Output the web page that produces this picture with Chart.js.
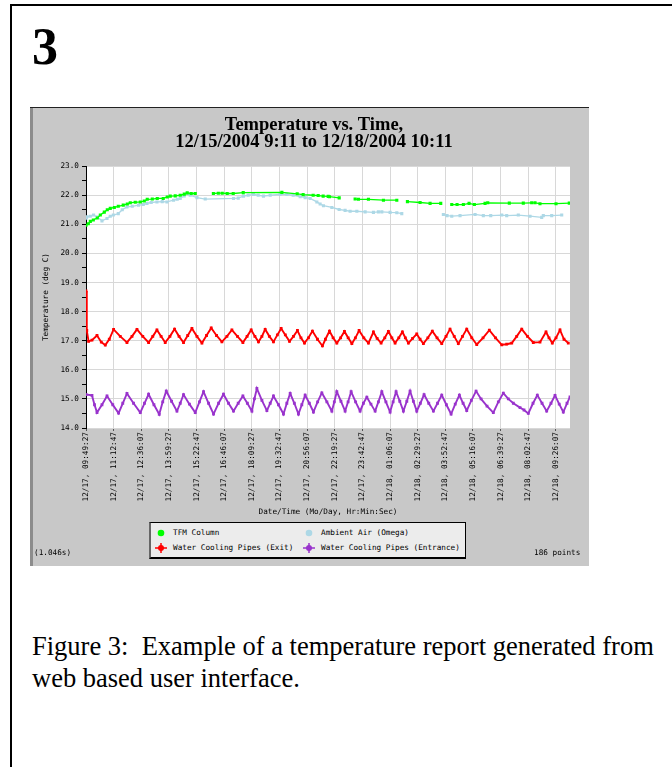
<!DOCTYPE html>
<html><head><meta charset="utf-8">
<script src="https://cdn.jsdelivr.net/npm/chart.js@4.4.1/dist/chart.umd.min.js"></script>
<style>
html,body{margin:0;padding:0;background:#fff;width:672px;height:767px;overflow:hidden;position:relative;}
#frame{position:absolute;left:10px;top:4px;width:700px;height:800px;border-top:2px solid #000;border-left:2px solid #000;}
#num{position:absolute;left:32px;top:21px;font:bold 52px/1 "Liberation Serif",serif;color:#000;}
#panel{position:absolute;left:30px;top:107px;width:559px;height:459px;background:#c8c8c8;}
#panel canvas{position:absolute;left:0;top:0;}
#lbar{position:absolute;left:30px;top:107px;width:3px;height:459px;background:#8c8c8c;}
#tline{position:absolute;left:30px;top:107px;width:559px;height:1px;background:#222;}
#legend{position:absolute;left:149px;top:522px;width:314px;height:34px;background:#ececec;border:1px solid #000;border-left:2px solid #666;border-bottom:2px solid #000;}
.li{position:absolute;height:12px;font:7.7px/12px "DejaVu Sans Mono",monospace;color:#000;white-space:pre;}
.li svg{position:absolute;top:0;}
.li span{position:absolute;top:0;}
.small{position:absolute;font:7.7px/10px "DejaVu Sans Mono",monospace;color:#000;white-space:pre;}
#caption{position:absolute;left:32px;top:630px;width:640px;font:26.5px/32px "Liberation Serif",serif;color:#000;white-space:pre;}
</style></head>
<body>
<div id="frame"></div>
<div id="num">3</div>
<div id="panel"><canvas id="c" width="559" height="459"></canvas></div>
<div id="lbar"></div>
<div id="tline"></div>
<div id="legend"></div>
<div class="small" style="left:34px;top:548px;">(1.046s)</div>
<div class="small" style="left:534px;top:548px;">186 points</div>
<div id="caption">Figure 3:  Example of a temperature report generated from
web based user interface.</div>
<script>
// ---- data (x = seconds after 12/17 09:49:27) ----
const chartTitle = ['Temperature vs. Time,', '12/15/2004 9:11 to 12/18/2004 10:11'];
const seriesNames = ['TFM Column', 'Ambient Air (Omega)', 'Water Cooling Pipes (Exit)', 'Water Cooling Pipes (Entrance)'];
const tickLabels = ['12/17, 09:49:27','12/17, 11:12:47','12/17, 12:36:07','12/17, 13:59:27','12/17, 15:22:47','12/17, 16:46:07',
  '12/17, 18:09:27','12/17, 19:32:47','12/17, 20:56:07','12/17, 22:19:27','12/17, 23:42:47','12/18, 01:06:07',
  '12/18, 02:29:27','12/18, 03:52:47','12/18, 05:16:07','12/18, 06:39:27','12/18, 08:02:47','12/18, 09:26:07'];
const tickStep = 5000;
const xMax = 87550;
const yTickValues = [14,14.5,15,15.5,16,16.5,17,17.5,18,18.5,19,19.5,20,20.5,21,21.5,22,22.5,23];

const tfmColumn = [[0,20.97],[420,21.02],[780,21.10],[1320,21.15],[2040,21.22],[2590,21.32],[3310,21.42],[3850,21.50],[4390,21.55],[5120,21.58],
  [5840,21.62],[6740,21.66],[7470,21.70],[8010,21.74],[8910,21.76],[9820,21.77],[10540,21.80],[11080,21.86],[11990,21.87],[12890,21.89],
  [13970,21.89],[14700,21.94],[15240,21.97],[16140,21.98],[17050,22.00],[17770,22.04],[18310,22.08],[19030,22.06],[19760,22.06],[21400,null],
  [23040,22.06],[23940,22.07],[24640,22.07],[25540,22.06],[26630,22.06],[28440,22.09],[35430,22.10],[38200,22.05],[39280,22.02],[41090,22.00],
  [42000,21.99],[42900,21.97],[43810,21.96],[44040,21.95],[45800,21.91],[47200,null],[48680,21.87],[49280,21.86],[51090,21.86],[53800,21.83],
  [56220,21.83],[57200,null],[58140,21.78],[60430,21.75],[62240,21.72],[64170,21.72],[65200,null],[66160,21.68],[67120,21.68],[68260,21.68],
  [69290,21.72],[70250,21.68],[72180,21.72],[72670,21.74],[76570,21.73],[79100,21.73],[80620,21.74],[81220,21.74],[82120,21.71],[85020,21.71],
  [87420,21.73]];

const ambientAir = [[0,21.21],[180,21.26],[780,21.28],[1370,21.32],[2040,21.25],[2890,21.12],[3800,21.20],[4390,21.28],[4940,21.32],[5840,21.37],
  [6560,21.50],[7410,21.60],[8370,21.62],[9510,21.66],[10360,21.68],[11030,21.72],[11800,21.75],[12830,21.77],[13790,21.78],[14640,21.77],
  [15840,21.83],[16500,21.86],[17050,21.89],[17770,21.98],[18260,22.06],[18850,22.00],[20070,21.92],[21570,21.87],[26680,21.89],[27530,21.90],
  [28490,21.97],[29340,22.00],[30300,22.03],[31150,22.00],[32100,21.97],[33320,22.00],[35120,22.03],[36330,22.03],[37470,22.00],[38740,21.95],
  [39640,21.92],[40540,21.89],[41760,21.77],[42350,21.70],[42950,21.64],[44470,21.58],[45790,21.51],[46870,21.48],[47780,21.45],[48990,21.45],
  [50490,21.43],[51990,21.41],[52890,21.43],[53510,21.43],[55010,21.41],[56220,21.40],[57120,21.37],[61000,null],[64640,21.34],[65310,21.30],
  [66160,21.28],[67660,21.30],[70380,21.34],[71870,21.30],[73210,21.30],[75200,21.32],[76100,21.30],[78200,21.32],[80320,21.28],[82430,21.24],
  [82720,21.30],[84240,21.30],[86050,21.32]];

const exitPipes = [[0,18.71],[140,17.35],[470,16.98],[1080,17.02],[1990,17.18],[2770,16.95],[3490,16.85],[4210,17.05],[4990,17.39],[6200,17.15],
  [7410,16.94],[8320,17.15],[9220,17.39],[10270,17.15],[11320,16.94],[12080,17.15],[12830,17.37],[13580,17.15],[14330,16.94],[15180,17.15],
  [16020,17.40],[16830,17.15],[17640,16.94],[18400,17.18],[19160,17.42],[20070,17.15],[20970,16.92],[21800,17.18],[22650,17.44],[23610,17.18],
  [24580,16.96],[25490,17.15],[26390,17.37],[27390,17.15],[28380,16.94],[29140,17.15],[29880,17.37],[30550,17.15],[31200,16.96],[31820,17.15],
  [32410,17.39],[33170,17.15],[33910,16.96],[34620,17.20],[35300,17.42],[36060,17.20],[36810,16.98],[37530,17.15],[38250,17.35],[38880,17.10],
  [39520,16.92],[40240,17.10],[40960,17.33],[41870,17.05],[42770,16.82],[43310,17.05],[44040,17.33],[44700,17.10],[45370,16.92],[46060,17.10],
  [46750,17.32],[47420,17.10],[48090,16.90],[48730,17.10],[49400,17.35],[50250,17.10],[51090,16.92],[51990,17.30],[52660,17.08],[53380,16.92],
  [54050,17.10],[54700,17.32],[55320,17.10],[55910,16.92],[56580,17.10],[57230,17.30],[57770,17.10],[58320,16.92],[59080,17.08],[59830,17.23],
  [60430,17.05],[61030,16.90],[61840,17.10],[62650,17.33],[63500,17.10],[64350,16.90],[65130,17.15],[65850,17.40],[66610,17.15],[67350,16.90],
  [68110,17.15],[68870,17.40],[69780,17.10],[70680,16.87],[71820,17.10],[72960,17.36],[74080,17.10],[75200,16.86],[76100,16.88],[77010,16.92],
  [77910,17.15],[78820,17.40],[79860,17.15],[80910,16.94],[82120,16.95],[83210,17.30],[83750,17.10],[84350,16.92],[85020,17.10],[85740,17.37],
  [86460,17.05],[87240,16.92]];

const entrancePipes = [[0,15.15],[1080,15.12],[1540,14.80],[1990,14.53],[2890,14.80],[3800,15.10],[4840,14.80],[5890,14.51],[6650,14.85],[7410,15.19],
  [8600,14.85],[9820,14.53],[10580,14.85],[11320,15.16],[12290,14.80],[13250,14.47],[13880,14.90],[14520,15.27],[15480,14.92],[16450,14.58],
  [17050,14.85],[17640,15.15],[18710,14.82],[19760,14.53],[20520,14.90],[21260,15.25],[22170,14.85],[23070,14.48],[23980,14.85],[24870,15.16],
  [25780,14.85],[26680,14.58],[27530,14.85],[28380,15.10],[29190,14.85],[30010,14.58],[30460,15.00],[30910,15.36],[31820,14.95],[32720,14.60],
  [33320,14.85],[33910,15.10],[34820,14.80],[35720,14.48],[36330,14.85],[36930,15.19],[37690,14.85],[38430,14.48],[39040,14.80],[39640,15.13],
  [40400,14.85],[41140,14.55],[41900,14.90],[42660,15.21],[43570,14.90],[44470,14.58],[44920,14.90],[45370,15.25],[46110,14.92],[46870,14.58],
  [47410,14.90],[47960,15.25],[48770,14.90],[49580,14.58],[50180,14.85],[50800,15.06],[51540,14.82],[52300,14.58],[52890,14.90],[53510,15.25],
  [54250,14.90],[55010,14.55],[55550,14.90],[56090,15.25],[56760,14.92],[57410,14.58],[58030,14.92],[58620,15.27],[59220,14.92],[59830,14.58],
  [60480,14.85],[61150,15.15],[62000,14.85],[62840,14.58],[63590,14.85],[64350,15.13],[65190,14.80],[66040,14.48],[66790,14.82],[67540,15.13],
  [68210,14.85],[68870,14.60],[69710,14.95],[70560,15.27],[71460,15.00],[72540,14.75],[73680,14.53],[74590,14.90],[75490,15.20],[76390,15.00],
  [77300,14.85],[78510,14.70],[79230,14.62],[80010,14.50],[80860,14.85],[81640,15.13],[82490,14.85],[83330,14.58],[84110,14.85],[84840,15.12],
  [85600,14.82],[86340,14.55],[87010,14.85],[87550,15.07]];

const seriesColors = ['#00ff00', '#add8e6', '#ff0000', '#9933cc'];
const seriesData = [tfmColumn, ambientAir, exitPipes, entrancePipes];

// ---- legend (HTML text) ----
const legendPos = [[0,0],[148,0],[0,15],[148,15]];
const legendEl = document.getElementById('legend');
seriesNames.forEach((name, i) => {
  const d = document.createElement('div');
  d.className = 'li';
  d.style.left = (3 + legendPos[i][0]) + 'px';
  d.style.top = (4 + legendPos[i][1]) + 'px';
  const c = seriesColors[i];
  const mk = i < 2
    ? `<svg width="14" height="12" style="left:0"><circle cx="7" cy="6" r="3.3" fill="${c}"/></svg>`
    : `<svg width="14" height="12" style="left:0"><line x1="1" y1="6" x2="13" y2="6" stroke="${c}" stroke-width="1.5"/><line x1="7" y1="1" x2="7" y2="11" stroke="${c}" stroke-width="1.5"/><circle cx="7" cy="6" r="3" fill="${c}"/></svg>`;
  d.innerHTML = mk + `<span style="left:19px">${name}</span>`;
  legendEl.appendChild(d);
});

// ---- chart ----
Chart.defaults.font.family = '"DejaVu Sans Mono", monospace';
Chart.defaults.color = '#000';
const plotBg = { id: 'plotBg', beforeDraw(c) { const {ctx, chartArea: a} = c; ctx.save(); ctx.fillStyle = '#fff'; ctx.fillRect(a.left, a.top, a.right - a.left, a.bottom - a.top); ctx.restore(); } };

new Chart(document.getElementById('c'), {
  type: 'line',
  data: {
    datasets: seriesData.map((s, i) => ({
      label: seriesNames[i],
      data: s.map(p => ({x: p[0], y: p[1]})),
      borderColor: seriesColors[i],
      backgroundColor: seriesColors[i],
      borderWidth: i < 2 ? 1.3 : 1.9,
      pointStyle: 'rect',
      pointRadius: i < 2 ? 2.2 : 2,
      pointBorderWidth: 0,
      tension: 0,
      spanGaps: false
    }))
  },
  options: {
    responsive: false,
    animation: false,
    layout: { padding: { left: 9, right: 0, top: 0, bottom: 41 } },
    plugins: {
      legend: { display: false },
      tooltip: { enabled: false },
      title: { display: true, text: chartTitle, color: '#000',
        font: { family: '"Liberation Serif", serif', size: 18.5, weight: 'bold', lineHeight: 0.95 },
        padding: { top: 9, bottom: 15 } }
    },
    scales: {
      x: {
        type: 'linear', min: 0, max: xMax,
        afterBuildTicks: s => { s.ticks = tickLabels.map((_, i) => ({ value: i * tickStep })); },
        afterFit: s => { s.height = 97; },
        ticks: { autoSkip: false, minRotation: 90, maxRotation: 90, padding: 1, color: '#000', font: { size: 7.7 },
          callback: (v, i) => tickLabels[i] },
        grid: { color: '#d8d8d8', tickColor: '#555', tickLength: 3 },
        border: { display: false },
        title: { display: true, text: 'Date/Time (Mo/Day, Hr:Min:Sec)', color: '#000', font: { size: 7.7 }, padding: { top: 0, bottom: 8.7 } }
      },
      y: {
        min: 14, max: 23,
        afterBuildTicks: s => { s.ticks = yTickValues.map(v => ({ value: v })); },
        afterFit: s => { s.width = 47; },
        ticks: { color: '#000', font: { size: 7.7 }, padding: 3,
          callback: v => Number.isInteger(v) ? v.toFixed(1) : '' },
        grid: { color: c => (c.tick && Number.isInteger(c.tick.value)) ? '#d8d8d8' : 'rgba(0,0,0,0)', tickColor: '#000', tickLength: 4 },
        border: { display: true, color: '#000', width: 1 },
        title: { display: true, text: 'Temperature (deg C)', color: '#000', font: { size: 7.7 }, padding: { top: 2.4, bottom: 0 } }
      },
      yR: {
        type: 'linear', position: 'right', display: true,
        afterFit: s => { s.width = 19; },
        ticks: { display: false }, grid: { display: false }, border: { display: false }
      }
    }
  },
  plugins: [plotBg]
});
</script>
</body></html>
